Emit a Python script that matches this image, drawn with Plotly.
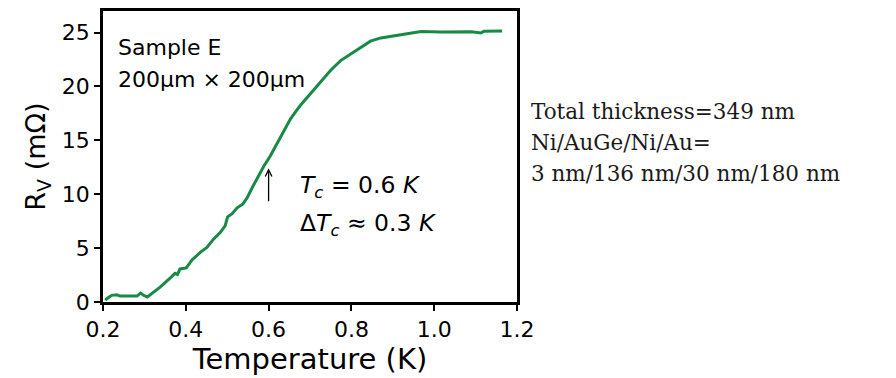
import plotly.graph_objects as go

temperature = [0.206, 0.209, 0.221, 0.233, 0.241, 0.26, 0.282, 0.291, 0.298, 0.307, 0.338,
               0.366, 0.374, 0.38, 0.386, 0.401, 0.415, 0.435, 0.451, 0.467, 0.483, 0.495,
               0.501, 0.512, 0.524, 0.538, 0.548, 0.56, 0.572, 0.588, 0.604, 0.617, 0.629,
               0.641, 0.653, 0.665, 0.677, 0.701, 0.725, 0.75, 0.774, 0.798, 0.822, 0.846,
               0.871, 0.895, 0.919, 0.943, 0.968, 1.016, 1.064, 1.09, 1.113, 1.12, 1.164]
resistance = [0.15, 0.31, 0.62, 0.68, 0.55, 0.55, 0.55, 0.83, 0.62, 0.46, 1.38,
              2.36, 2.67, 2.55, 3.07, 3.16, 3.9, 4.6, 5.06, 5.83, 6.44, 7.06,
              7.9, 8.2, 8.74, 9.1, 9.66, 10.58, 11.5, 12.58, 13.55, 14.5, 15.35,
              16.2, 17.0, 17.65, 18.25, 19.32, 20.4, 21.5, 22.4, 23.0, 23.6, 24.2,
              24.5, 24.65, 24.84, 25.0, 25.1, 25.06, 25.1, 25.08, 24.96, 25.12, 25.15]
x_ticks = [0.2, 0.4, 0.6, 0.8, 1.0, 1.2]
x_tick_text = ["0.2", "0.4", "0.6", "0.8", "1.0", "1.2"]
y_ticks = [0, 5, 10, 15, 20, 25]
right_lines = ["Total thickness=349 nm", "Ni/AuGe/Ni/Au=", "3 nm/136 nm/30 nm/180 nm"]

FONT = "DejaVu Sans"

fig = go.Figure()
fig.add_trace(go.Scatter(x=temperature, y=resistance, mode="lines",
                         line=dict(color="#178a45", width=3), showlegend=False))

fig.add_annotation(x=0.6, y=12.4, ax=0.6, ay=9.2, xref="x", yref="y", axref="x", ayref="y",
                   showarrow=True, arrowhead=5, arrowsize=1, arrowwidth=1.3,
                   arrowcolor="black", text="")
fig.add_annotation(x=0.232, y=23.6, xref="x", yref="y", xanchor="left", yanchor="middle",
                   text="Sample E", showarrow=False, font=dict(family=FONT, size=22, color="black"))
fig.add_annotation(x=0.232, y=20.6, xref="x", yref="y", xanchor="left", yanchor="middle",
                   text="200μm × 200μm", showarrow=False, font=dict(family=FONT, size=22, color="black"))
fig.add_annotation(x=0.67, y=10.7, xref="x", yref="y", xanchor="left", yanchor="middle",
                   text="<i>T<sub>c</sub></i> = 0.6 <i>K</i>", showarrow=False,
                   font=dict(family=FONT, size=23.5, color="black"))
fig.add_annotation(x=0.67, y=7.2, xref="x", yref="y", xanchor="left", yanchor="middle",
                   text="Δ<i>T<sub>c</sub></i> ≈ 0.3 <i>K</i>", showarrow=False,
                   font=dict(family=FONT, size=23.5, color="black"))

for i, t in enumerate(right_lines):
    fig.add_annotation(x=1.03, y=0.653 - i * 0.105, xref="paper", yref="paper",
                       xanchor="left", yanchor="middle", text=t, showarrow=False,
                       font=dict(family="DejaVu Serif", size=21.5, color="#1a1a1a"))

axis_common = dict(showline=True, linecolor="black", linewidth=2.5, mirror=True,
                   ticks="outside", ticklen=6, tickwidth=2, tickcolor="black",
                   showgrid=False, zeroline=False,
                   tickfont=dict(family=FONT, size=22, color="black"))
fig.update_xaxes(range=[0.2, 1.2], tickvals=x_ticks, ticktext=x_tick_text,
                 title=dict(text="Temperature (K)", font=dict(family=FONT, size=29, color="black"), standoff=3),
                 **axis_common)
fig.update_yaxes(range=[0, 27.0], tickvals=y_ticks,
                 title=dict(text="R<sub>V</sub> (mΩ)", font=dict(family=FONT, size=27, color="black"), standoff=9),
                 **axis_common)

fig.update_layout(width=896, height=378, margin=dict(l=103, r=379, t=8, b=76),
                  plot_bgcolor="white", paper_bgcolor="white")
fig.write_html("out.html")
